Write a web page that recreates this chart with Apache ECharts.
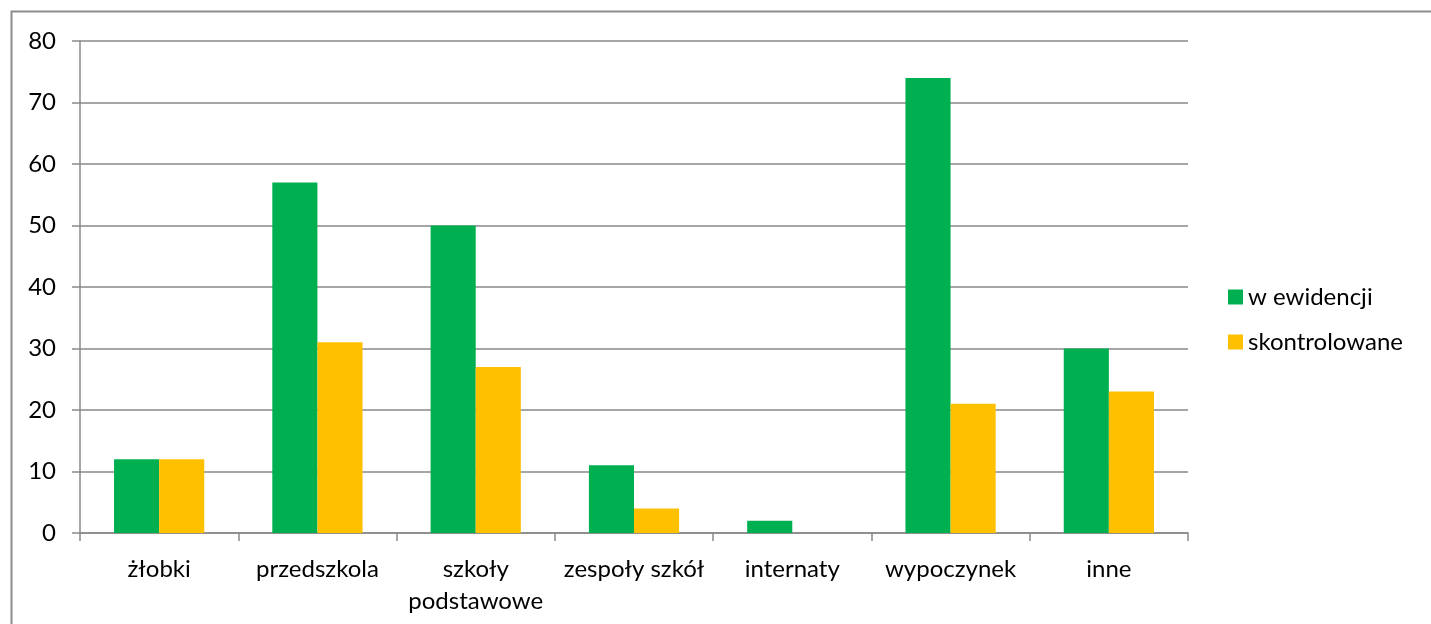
<!DOCTYPE html>
<html><head><meta charset="utf-8">
<script src="https://cdn.jsdelivr.net/npm/echarts@6/dist/echarts.min.js"></script>
<style>html,body{margin:0;padding:0;background:#fff}#c{width:1431px;height:624px}</style>
</head><body><div id="c"></div>
<script>
const categories = ['żłobki','przedszkola','szkoły\npodstawowe','zespoły szkół','internaty','wypoczynek','inne'];
const seriesNames = ['w ewidencji','skontrolowane'];
const wEwidencji = [12,57,50,11,2,74,30];
const skontrolowane = [12,31,27,4,0,21,23];
const yTicks = [0,10,20,30,40,50,60,70,80];

const font = 'Lato, "Open Sans", sans-serif';
const chart = echarts.init(document.getElementById('c'));
chart.setOption({
  animation:false,
  graphic:[{type:'rect',shape:{x:11.5,y:11.5,width:1440,height:640},style:{fill:'none',stroke:'#8c8c8c',lineWidth:2},silent:true}],
  grid:{left:80,right:243,top:41,bottom:91},
  legend:{orient:'vertical',left:1228,top:285,padding:0,itemWidth:15,itemHeight:15,itemGap:21,icon:'rect',
    data:seriesNames,textStyle:{fontFamily:font,fontSize:24,lineHeight:24,color:'#000'}},
  xAxis:{type:'category',data:categories,
    axisLine:{lineStyle:{color:'#898989',width:1.5}},
    axisTick:{show:true,interval:0,length:8,lineStyle:{color:'#898989',width:1.5}},
    axisLabel:{interval:0,fontFamily:font,fontSize:24,color:'#000',margin:20,lineHeight:32}},
  yAxis:{type:'value',min:yTicks[0],max:yTicks[yTicks.length-1],interval:10,
    axisLine:{show:true,lineStyle:{color:'#898989',width:1.5}},
    axisTick:{show:true,length:8,lineStyle:{color:'#898989',width:1.5}},
    splitLine:{lineStyle:{color:'#898989',width:1.5}},
    axisLabel:{fontFamily:font,fontSize:24,color:'#000',margin:24}},
  series:[
    {name:seriesNames[0],type:'bar',data:wEwidencji,itemStyle:{color:'#00B050'},barGap:'0%',barCategoryGap:'43%'},
    {name:seriesNames[1],type:'bar',data:skontrolowane,itemStyle:{color:'#FFC000'}}
  ]
});
</script></body></html>
